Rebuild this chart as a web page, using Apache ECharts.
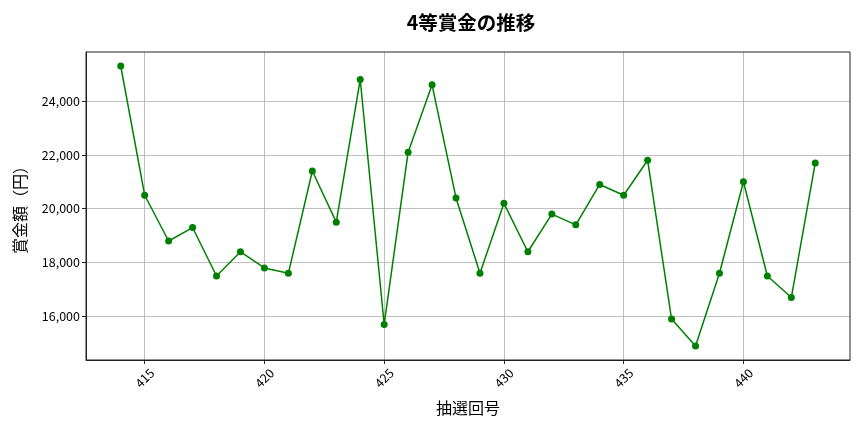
<!DOCTYPE html>
<html><head><meta charset="utf-8">
<script src="https://cdn.jsdelivr.net/npm/echarts@6/dist/echarts.min.js"></script>
<style>html,body{margin:0;padding:0;background:#fff}#c{width:864px;height:432px}</style>
</head><body><div id="c"></div>
<script>
const draws = [414,415,416,417,418,419,420,421,422,423,424,425,426,427,428,429,430,431,432,433,434,435,436,437,438,439,440,441,442,443];
const prizes = [25300,20500,18800,19300,17500,18400,17800,17600,21400,19500,24800,15700,22100,24600,20400,17600,20200,18400,19800,19400,20900,20500,21800,15900,14900,17600,21000,17500,16700,21700];
const xTicks = [415,420,425,430,435,440];
const yTicks = [16000,18000,20000,22000,24000];

const font = '"Noto Sans CJK JP", "Noto Sans", sans-serif';
const chart = echarts.init(document.getElementById('c'));
chart.setOption({
  animation: false,
  title: {text: '4等賞金の推移', left: 466, top: 8, textAlign: 'center',
    textStyle: {fontFamily: font, fontSize: 19.5, fontWeight: 'bold', color: '#000'}},
  grid: {left: 86, right: 14, top: 52, bottom: 72},
  xAxis: {
    type: 'value', min: 412.55, max: 444.45,
    name: '抽選回号', nameLocation: 'middle', nameGap: 40,
    nameTextStyle: {fontFamily: font, fontSize: 16, color: '#000'},
    axisLine: {show: true, lineStyle: {color: '#222', width: 1}},
    axisTick: {show: true, length: 4, lineStyle: {color: '#222'}, customValues: xTicks},
    axisLabel: {rotate: 45, fontFamily: font, fontSize: 12.5, color: '#000', margin: 18,
      align: 'center', verticalAlign: 'middle', customValues: xTicks,
      formatter: v => String(v)},
    splitLine: {show: true, lineStyle: {color: '#b0b0b0', width: 0.8}}
  },
  yAxis: {
    type: 'value', min: 14380, max: 25820,
    name: '賞金額（円）', nameLocation: 'middle', nameGap: 58, nameRotate: 90,
    nameTextStyle: {fontFamily: font, fontSize: 16, color: '#000'},
    axisLine: {show: true, lineStyle: {color: '#222', width: 1}},
    axisTick: {show: true, length: 4, lineStyle: {color: '#222'}, customValues: yTicks},
    axisLabel: {fontFamily: font, fontSize: 12.5, color: '#000', margin: 6, customValues: yTicks,
      formatter: v => v.toLocaleString('en-US')},
    splitLine: {show: true, lineStyle: {color: '#b0b0b0', width: 0.8}}
  },
  series: [{
    type: 'line', data: draws.map((d, i) => [d, prizes[i]]),
    symbol: 'circle', symbolSize: 7,
    lineStyle: {color: '#008000', width: 1.5},
    itemStyle: {color: '#008000'}
  }],
  graphic: [{type: 'rect', shape: {x: 86, y: 52, width: 764, height: 308}, style: {fill: 'none', stroke: '#222', lineWidth: 1}, silent: true, z: 100}]
});
</script></body></html>
